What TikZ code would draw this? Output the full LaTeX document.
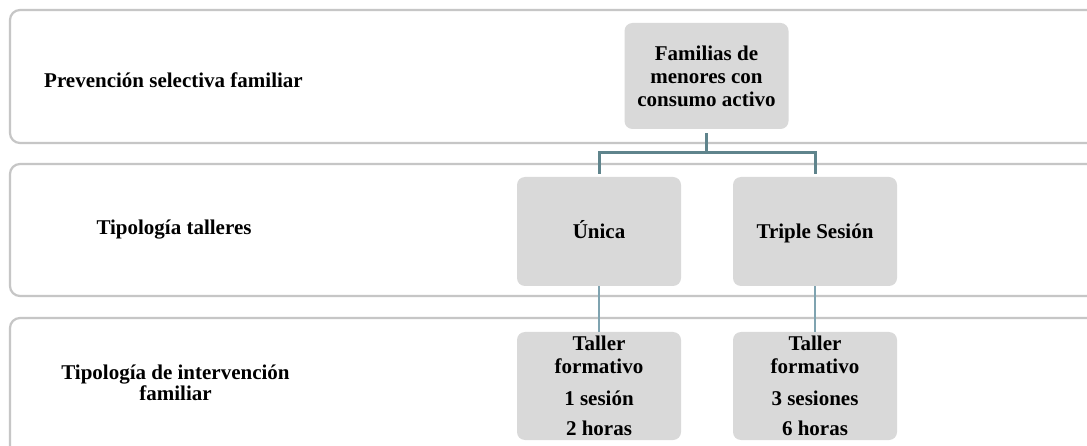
\documentclass[tikz,border=0pt]{standalone}
\usepackage{fontspec}
\setmainfont{Liberation Serif}
\definecolor{bandline}{HTML}{C6C6C6}
\definecolor{boxfill}{HTML}{D9D9D9}
\definecolor{treeline}{HTML}{5F848C}
\definecolor{stemline}{HTML}{7FA3B0}

\begin{document}
\begin{tikzpicture}[x=1pt,y=-1pt,
  band/.style={draw=bandline,line width=2.2pt,rounded corners=10pt},
  level/.style={fill=boxfill,rounded corners=8pt,minimum width=164pt,minimum height=108pt,
    align=center,inner sep=0pt,font=\bfseries\fontsize{21}{23}\selectfont},
  tag/.style={align=center,inner sep=0pt,font=\bfseries\fontsize{21}{20.5}\selectfont},
  tree/.style={draw=treeline,line width=3pt},
  stem/.style={draw=stemline,line width=2.5pt}]
\useasboundingbox[fill=white] (0,0) rectangle (1087,446);
\clip (0,0) rectangle (1087,446);

% franjas
\draw[band] (10,10) rectangle (1110,143);
\draw[band] (10,164) rectangle (1110,296);
\draw[band] (10,318) rectangle (1110,456);

\node[tag,anchor=west] (prev) at (44,80) {Prevención selectiva familiar};
\node[tag] (talleres) at (174,230) {Tipología talleres};
\node[tag] (interv) at (175.5,383) {Tipología de intervención\\familiar};

\node[level,minimum height=106pt] (fam) at (706.5,76) {Familias de\\menores con\\consumo activo};
\node[level,minimum height=109pt] (unica) at (599,231.5) {Única\vphantom{Úp}};
\node[level,minimum height=109pt] (triple) at (815,231.5) {Triple Sesión\vphantom{Úp}};
\node[level] (taller1) at (599,386) {\fontsize{21}{21}\selectfont Taller\\formativo\\[9pt]1 sesión\\[7pt]2 horas};
\node[level] (taller3) at (815,386) {\fontsize{21}{21}\selectfont Taller\\formativo\\[9pt]3 sesiones\\[7pt]6 horas};

\coordinate (split) at (706.5,153);
\draw[tree,shorten <=4pt] (fam.south) -- (split);
\draw[tree,shorten <=3pt,shorten >=3pt] (unica.north) |- (split) -| (triple.north);
\draw[stem] (unica.south) -- (taller1.north);
\draw[stem] (triple.south) -- (taller3.north);
\end{tikzpicture}
\end{document}
